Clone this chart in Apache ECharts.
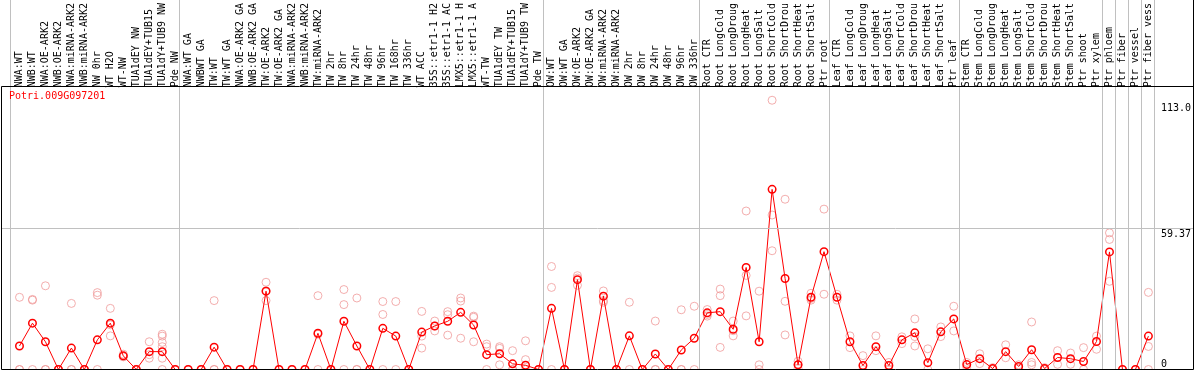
<!DOCTYPE html>
<html><head><meta charset="utf-8">
<script src="https://cdn.jsdelivr.net/npm/echarts@6/dist/echarts.min.js"></script>
<style>html,body{margin:0;padding:0;background:#fff}#c{width:1194px;height:370px}</style>
</head><body><div id="c"></div>
<script>
const geneId = 'Potri.009G097201';

const categories = [
  'NWA:WT','NWB:WT','NWA:OE-ARK2','NWB:OE-ARK2','NWA:miRNA-ARK2','NWB:miRNA-ARK2','NW 0hr','WT H2O','WT-NW','TUA1dEY NW','TUA1dEY+TUB15','TUA1dY+TUB9 NW','Pde NW',
  'NWA:WT GA','NWBWT GA','TW:WT','TW:WT GA','NWA:OE-ARK2 GA','NWB:OE-ARK2 GA','TW:OE-ARK2','TW:OE-ARK2 GA','NWA:miRNA-ARK2','NWB:miRNA-ARK2','TW:miRNA-ARK2','TW 2hr','TW 8hr','TW 24hr','TW 48hr','TW 96hr','TW 168hr','TW 336hr','WT ACC','35S::etr1-1 H2','35S::etr1-1 AC','LMX5::etr1-1 H','LMX5::etr1-1 A','WT-TW','TUA1dEY TW','TUA1dEY+TUB15','TUA1dY+TUB9 TW','Pde TW',
  'OW:WT','OW:WT GA','OW:OE-ARK2','OW:OE-ARK2 GA','OW:miRNA-ARK2','OW:miRNA-ARK2','OW 2hr','OW 8hr','OW 24hr','OW 48hr','OW 96hr','OW 336hr',
  'Root CTR','Root LongCold','Root LongDroug','Root LongHeat','Root LongSalt','Root ShortCold','Root ShortDrou','Root ShortHeat','Root ShortSalt','Ptr root',
  'Leaf CTR','Leaf LongCold','Leaf LongDroug','Leaf LongHeat','Leaf LongSalt','Leaf ShortCold','Leaf ShortDrou','Leaf ShortHeat','Leaf ShortSalt','Ptr leaf',
  'Stem CTR','Stem LongCold','Stem LongDroug','Stem LongHeat','Stem LongSalt','Stem ShortCold','Stem ShortDrou','Stem ShortHeat','Stem ShortSalt','Ptr shoot','Ptr xylem',
  'Ptr phloem','Ptr fiber','Ptr vessel','Ptr fiber vess'
];

const meanValues = [
  10.0,19.7,11.8,0,9.1,0,12.6,19.7,5.8,0,7.6,7.6,0,
  0,0,9.5,0,0,0,33.3,0,0,0,15.4,0,20.5,10.0,0,17.5,14.2,0,15.9,18.5,20.5,24.3,18.9,6.3,6.7,2.4,1.8,0,
  26.0,0,38.2,0,31.2,0,14.3,0,6.6,0,8.3,13.3,
  24.1,24.6,17.1,43.4,11.8,76.6,38.7,2.0,30.7,50.1,
  30.7,11.8,1.7,9.7,1.7,12.6,15.6,2.9,16.0,21.5,
  2.1,4.6,0.4,7.6,1.3,8.4,0.4,5.1,4.6,3.4,11.9,
  50.0,0,0,14.2
];

const replicates = [
  [30.7,0,0],[29.8,29.5,0],[35.6,0,0],[0,0,0],[28.1,0,0],[0,0,0],[32.7,31.6,0],[26.0,19.0,14.3],[6.5,5.5,5.4],[0,0,0],[11.8,6.3,4.8],[15.0,14.2,11.5,9.7,4.8,0],[0,0],
  [0,0],[0,0],[29.3,0,0],[0,0],[0,0],[0,0],[37.1,33.5,29.3],[0,0],[0,0],[0,0],[31.4,15.0,0],[0,0],[34.0,27.6,0],[30.4,0,0],[0,0],[28.9,23.4,0],[28.9,0],[0,0],[24.7,14.2,9.1],[20.6,18.5,16.4],[24.6,23.3,14.6],[30.4,29.1,13.3],[22.7,22.2,11.8],[10.8,9.7,0],[9.7,9.0,2.0],[8.0,0,0],[12.2,4.2,0],[0,0],
  [43.8,34.9,0],[0,0],[39.9,38.9,35.8],[0,0],[33.4,29.3,28.6],[0,0],[28.6,0],[0,0],[20.6,0,0],[0,0],[25.4,0,0],[26.9,0],
  [25.5,23.4,22.7],[34.2,31.4,9.4],[20.6,16.5,14.3],[67.4,40.0,22.8],[33.3,2.0,0],[114.5,65.7,50.5],[72.4,29.0,14.7],[3.5,2.0,0.5],[32.4,30.2,29.5],[68.2,32.0],
  [32.0,29.5],[14.3,9.3],[5.9,0],[14.3,8.0],[3.0,0],[13.9,11.0],[21.5,14.0,10.0],[8.8,0],[18.1,14.0],[26.9,16.4],
  [3.0,1.0],[6.7,2.5],[0.8,0],[10.5,5.0],[2.0,0.5],[20.2,3.0,2.0],[0.8,0],[8.0,2.2],[7.0,2.2],[9.3,0],[14.2,8.6],
  [58.1,55.3,37.5],[0],[0],[32.8,9.8,0]
];

// index of first category of each group (last entry = total count)
const groupStarts = [0, 13, 41, 53, 63, 73, 84, 85, 86, 87, 88];
const yTickValues = [59.37, 113.0];
const yTickLabels = ['59.37', '113.0'];
const yZeroLabel = '0';
const gridLineValue = 59.37;

// ---- layout ----
const STEP = 13;               // px per category
const PX_PER_UNIT = 2.375;     // px per value unit
const PLOT_TOP = 86.5, PLOT_BOTTOM = 369.5;
const FRAME_LEFT = 1.5, FRAME_W = 1192;
const CAT_LEFT = 13;
const catWidth = categories.length * STEP;
const plotMax = (PLOT_BOTTOM - PLOT_TOP) / PX_PER_UNIT;
const frameMax = PLOT_BOTTOM / PX_PER_UNIT;
const xMin = (FRAME_LEFT - (CAT_LEFT + STEP / 2)) / STEP;
const xMax = xMin + FRAME_W / STEP;
const sepShift = (CAT_LEFT - 2.5 - FRAME_LEFT) / STEP + xMin; // separator offset vs boundary index

const MONO = '"DejaVu Sans Mono", monospace';

const repData = [];
replicates.forEach((arr, i) => arr.forEach(v => repData.push([i, v])));

const seg = (x1, y1, x2, y2, color) => [
  { coord: [x1, y1], lineStyle: { color: color, width: 1, type: 'solid' } },
  { coord: [x2, y2] }
];
const frameLines = [];
groupStarts.forEach(k => frameLines.push(seg(k + sepShift, 0, k + sepShift, frameMax, '#c0c0c0')));
frameLines.push(seg(xMin, gridLineValue, xMax, gridLineValue, '#c0c0c0'));
frameLines.push(seg(xMin, plotMax, xMax, plotMax, '#000'));
frameLines.push(seg(xMin, 0, xMax, 0, '#000'));
frameLines.push(seg(xMin, 0, xMin, plotMax, '#000'));
frameLines.push(seg(xMax, 0, xMax, frameMax, '#000'));

const chart = echarts.init(document.getElementById('c'), null, { renderer: 'canvas' });
chart.setOption({
  animation: false,
  backgroundColor: '#fff',
  title: {
    text: geneId, left: 9, top: 91, padding: 0,
    textStyle: { color: '#ff0000', fontSize: 10, fontFamily: MONO, fontWeight: 'normal' }
  },
  grid: [
    { left: CAT_LEFT, top: PLOT_TOP, width: catWidth, height: PLOT_BOTTOM - PLOT_TOP, containLabel: false },
    { left: FRAME_LEFT, top: 0, width: FRAME_W, height: PLOT_BOTTOM, containLabel: false }
  ],
  xAxis: [
    {
      type: 'category', gridIndex: 0, position: 'top', data: categories, boundaryGap: true,
      axisLine: { show: false }, axisTick: { show: false }, splitLine: { show: false },
      axisLabel: { interval: 0, rotate: 90, margin: 2, fontSize: 10, fontFamily: MONO, color: '#000' }
    },
    { type: 'value', gridIndex: 1, min: xMin, max: xMax, show: false }
  ],
  yAxis: [
    {
      type: 'value', gridIndex: 0, position: 'right', min: 0, max: plotMax,
      axisLine: { show: false }, axisTick: { show: false }, splitLine: { show: false },
      axisLabel: {
        customValues: yTickValues, margin: 6, verticalAlign: 'top', align: 'left',
        fontSize: 10, fontFamily: MONO, color: '#000',
        formatter: v => yTickLabels[yTickValues.indexOf(v)] ?? ''
      }
    },
    {
      type: 'value', gridIndex: 0, position: 'right', min: 0, max: plotMax,
      axisLine: { show: false }, axisTick: { show: false }, splitLine: { show: false },
      axisLabel: {
        customValues: [0], margin: 6, verticalAlign: 'bottom', align: 'left',
        fontSize: 10, fontFamily: MONO, color: '#000',
        formatter: () => yZeroLabel
      }
    },
    { type: 'value', gridIndex: 1, min: 0, max: frameMax, show: false }
  ],
  series: [
    {
      type: 'line', xAxisIndex: 1, yAxisIndex: 2, data: [[xMin, 0]], showSymbol: false, silent: true, z: 1,
      lineStyle: { opacity: 0 },
      markLine: { silent: true, symbol: ['none', 'none'], label: { show: false }, animation: false, data: frameLines }
    },
    {
      type: 'scatter', xAxisIndex: 0, yAxisIndex: 0, data: repData, clip: false, z: 3,
      symbol: 'circle', symbolSize: 8, silent: true,
      itemStyle: { color: 'rgba(0,0,0,0)', borderColor: '#f09a9a', borderWidth: 1 }
    },
    {
      type: 'line', xAxisIndex: 0, yAxisIndex: 0, data: meanValues, clip: false, z: 4,
      symbol: 'circle', symbolSize: 7.5, showAllSymbol: true, silent: true,
      itemStyle: { color: 'rgba(0,0,0,0)', borderColor: '#ff0000', borderWidth: 1.5 },
      lineStyle: { color: '#ff0000', width: 1 }
    }
  ]
});
</script>
</body></html>
